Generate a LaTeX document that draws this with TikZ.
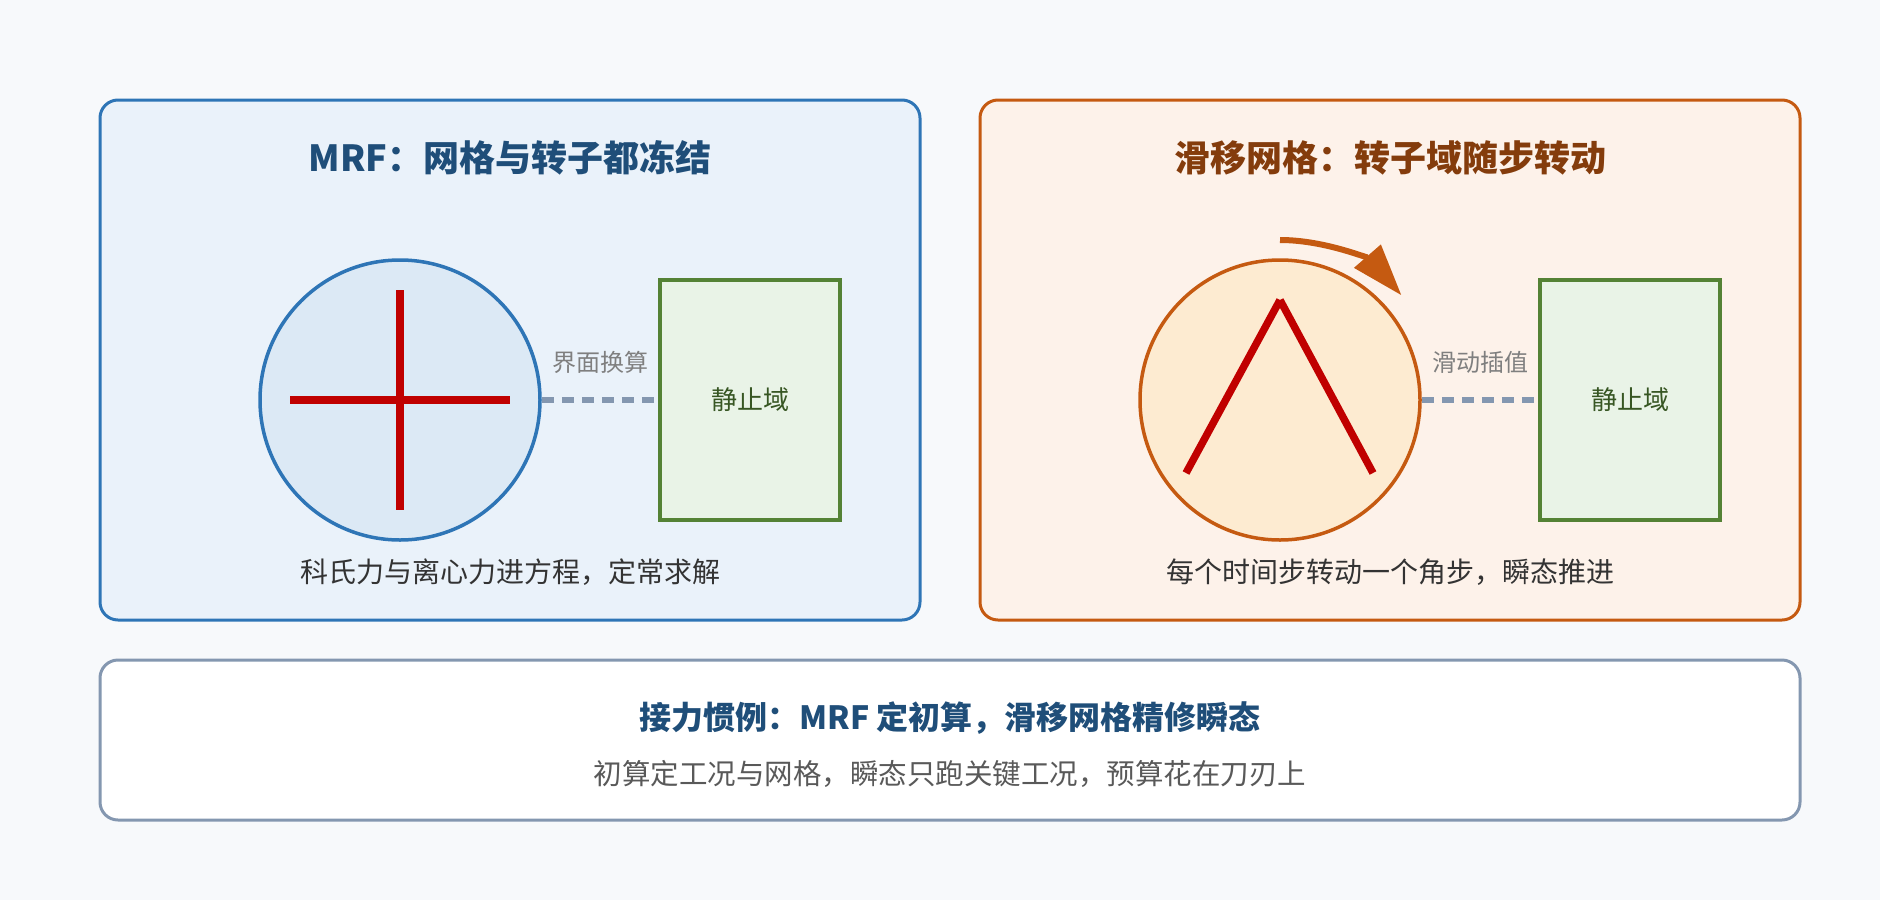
\documentclass[tikz,border=0pt]{standalone}
\usepackage{fontspec}
\newfontfamily\cjk{Noto Sans CJK SC}
\usetikzlibrary{arrows.meta}
\definecolor{bgc}{HTML}{F7F9FB}
\definecolor{bluec}{HTML}{2E75B6}
\definecolor{bluefill}{HTML}{EAF2FA}
\definecolor{bluecirc}{HTML}{DCE9F5}
\definecolor{bluetitle}{HTML}{1F4E79}
\definecolor{orangec}{HTML}{C55A11}
\definecolor{orangefill}{HTML}{FDF2EA}
\definecolor{orangecirc}{HTML}{FDEBD1}
\definecolor{orangetitle}{HTML}{843C0C}
\definecolor{greenc}{HTML}{548235}
\definecolor{greenfill}{HTML}{E9F3E7}
\definecolor{greentext}{HTML}{375623}
\definecolor{greyc}{HTML}{8497B0}
\definecolor{redc}{HTML}{C00000}
\definecolor{darktext}{HTML}{333333}
\definecolor{labeltext}{HTML}{7F7F7F}
\definecolor{subgrey}{HTML}{595959}
\begin{document}
\begin{tikzpicture}[x=1pt,y=-1pt,
  panel/.style={rounded corners=18pt, line width=3pt, minimum width=820pt, minimum height=520pt, inner sep=0pt},
  titletext/.style={font=\cjk\bfseries\fontsize{36}{42}\selectfont, inner sep=0pt},
  subtext/.style={font=\cjk\fontsize{28}{34}\selectfont, text=darktext, inner sep=0pt},
  labtext/.style={font=\cjk\fontsize{24}{28}\selectfont, text=labeltext, inner sep=0pt},
  rotor/.style={circle, minimum size=280pt, inner sep=0pt, line width=3.5pt},
  statbox/.style={rectangle, draw=greenc, fill=greenfill, line width=3.5pt, minimum width=180pt, minimum height=240pt, inner sep=0pt, font=\cjk\fontsize{26}{30}\selectfont, text=greentext},
  ifline/.style={draw=greyc, line width=5.5pt, dash pattern=on 12pt off 8pt},
  blade/.style={draw=redc, line width=7.5pt}
]
\useasboundingbox[fill=bgc] (0,0) rectangle (1880,900);

% left panel
\node[panel, draw=bluec, fill=bluefill] (lp) at (510,360) {};
\node[titletext, text=bluetitle] (lt) at (510,158) {MRF：网格与转子都冻结};
\node[rotor, draw=bluec, fill=bluecirc] (lc) at (400,400) {};
\draw[blade] (400,290) -- (400,510);
\draw[blade] (290,400) -- (510,400);
\node[statbox] (lb) at (750,400) {静止域};
\draw[ifline] (lc.east) -- (lb.west);
\node[labtext] (ll) at (600,362) {界面换算};
\node[subtext] (ls) at (510,572) {科氏力与离心力进方程，定常求解};

% right panel
\node[panel, draw=orangec, fill=orangefill] (rp) at (1390,360) {};
\node[titletext, text=orangetitle] (rt) at (1390,158) {滑移网格：转子域随步转动};
\node[rotor, draw=orangec, fill=orangecirc] (rc) at (1280,400) {};
\draw[blade] (1186,473) -- (1280,300);
\draw[blade] (1280,300) -- (1373,473);
\draw[orangec, line width=6pt, -{Triangle[length=52pt, width=34pt]}] (1280,240) arc[start angle=-90, end angle=-41, radius=161];
\node[statbox] (rb) at (1630,400) {静止域};
\draw[ifline] (rc.east) -- (rb.west);
\node[labtext] (rl) at (1480,362) {滑动插值};
\node[subtext] (rs) at (1390,572) {每个时间步转动一个角步，瞬态推进};

% bottom panel
\node[rounded corners=18pt, line width=3pt, draw=greyc, fill=white, minimum width=1700pt, minimum height=160pt, inner sep=0pt] (bp) at (950,740) {};
\node[font=\cjk\bfseries\fontsize{32}{38}\selectfont, text=bluetitle, inner sep=0pt] (bt) at (950,718) {接力惯例：MRF 定初算，滑移网格精修瞬态};
\node[font=\cjk\fontsize{28.5}{34}\selectfont, text=subgrey, inner sep=0pt] (bs) at (950,774) {初算定工况与网格，瞬态只跑关键工况，预算花在刀刃上};
\end{tikzpicture}
\end{document}
